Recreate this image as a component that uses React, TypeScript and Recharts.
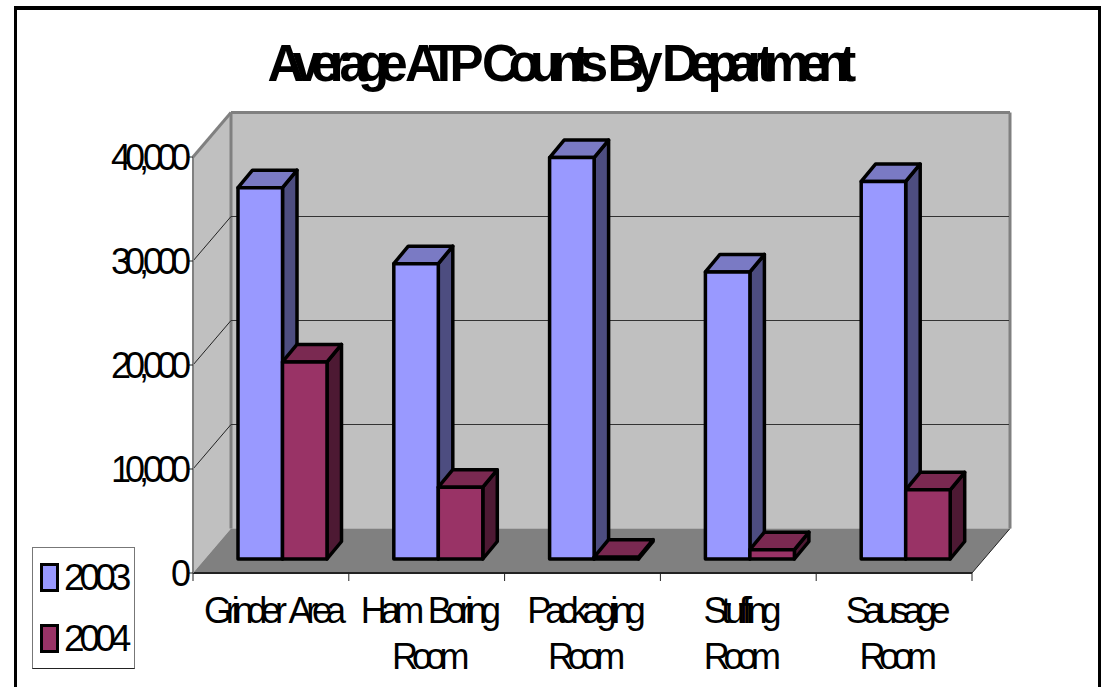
import React from "react";
import { BarChart, Bar, XAxis, YAxis, CartesianGrid, Legend } from "recharts";

const categoryLines = [["Grinder Area"], ["Ham Boring", "Room"], ["Packaging", "Room"], ["Stuffing", "Room"], ["Sausage", "Room"]];
const values2003 = [35700, 28400, 38600, 27600, 36300];
const values2004 = [18950, 6900, 180, 900, 6650];
const yTicks = [0, 10000, 20000, 30000, 40000];
const seriesNames = ["2003", "2004"];

const data = categoryLines.map((lines, i) => ({
  name: lines.join(" "),
  s2003: values2003[i],
  s2004: values2004[i],
}));

const W = 1102, H = 687;
const PLOT = { x: 193, y: 157, w: 779, h: 416 };
const WALL_DX = 38, WALL_DY = 44.5;
const BAR_SHIFT_X = 12, BAR_SHIFT_Y = 14;
const BAR_DX = 14.5, BAR_DY = 17.5;
const FONT = "'Liberation Sans', Arial, sans-serif";
const BAND = PLOT.w / categoryLines.length;

const Walls = () => {
  const { x, y, w, h } = PLOT;
  const b = y + h, r = x + w;
  const bx = x + WALL_DX, ty = y - WALL_DY, by = b - WALL_DY, rx = r + WALL_DX;
  return (
    <svg width={W} height={H} style={{ position: "absolute", left: 0, top: 0 }}>
      <polygon points={`${x},${y} ${bx},${ty} ${bx},${by} ${x},${b}`} fill="#c0c0c0" />
      <rect x={bx} y={ty} width={w} height={h} fill="#c0c0c0" />
      <polygon points={`${x},${b} ${bx},${by} ${rx},${by} ${r},${b}`} fill="#808080" />
      <line x1={r} y1={b} x2={rx} y2={by} stroke="#222" strokeWidth={1} />
      <line x1={x} y1={y} x2={bx} y2={ty} stroke="#808080" strokeWidth={3} />
      <line x1={bx} y1={ty} x2={rx} y2={ty} stroke="#808080" strokeWidth={3} />
      <line x1={bx} y1={ty} x2={bx} y2={by} stroke="#808080" strokeWidth={3} />
      <line x1={rx} y1={ty} x2={rx} y2={by} stroke="#808080" strokeWidth={3} />
    </svg>
  );
};

const gridLine = (props: any) => {
  const { x1, x2, y1, index } = props;
  if (y1 <= PLOT.y + 1 || y1 >= PLOT.y + PLOT.h - 1) return <g key={index} />;
  return (
    <g key={index}>
      <line x1={x1} y1={y1} x2={x1 + WALL_DX} y2={y1 - WALL_DY} stroke="#222" strokeWidth={1} />
      <line x1={x1 + WALL_DX} y1={y1 - WALL_DY} x2={x2 + WALL_DX - 1} y2={y1 - WALL_DY} stroke="#333" strokeWidth={1} />
    </g>
  );
};

const Bar3D = (faceFill: string, topFill: string, sideFill: string) => (props: any) => {
  const { x, y, width, height } = props;
  const fx = x + BAR_SHIFT_X, fy = y - BAR_SHIFT_Y;
  const r = fx + width, b = fy + height;
  const common = { stroke: "#000", strokeWidth: 3.5, strokeLinejoin: "round" as const };
  return (
    <g>
      <polygon points={`${r},${fy} ${r + BAR_DX},${fy - BAR_DY} ${r + BAR_DX},${b - BAR_DY} ${r},${b}`} fill={sideFill} {...common} />
      <polygon points={`${fx},${fy} ${fx + BAR_DX},${fy - BAR_DY} ${r + BAR_DX},${fy - BAR_DY} ${r},${fy}`} fill={topFill} {...common} />
      <rect x={fx} y={fy} width={width} height={height} fill={faceFill} {...common} />
    </g>
  );
};

const YTick = (props: any) => {
  const { y, payload } = props;
  return (
    <text x={PLOT.x - 8} y={y + 13} textAnchor="end" fontFamily={FONT} fontSize={36} letterSpacing={-6} fill="#000">
      {payload.value === 0 ? "0" : payload.value.toLocaleString("en-US")}
    </text>
  );
};

const XTick = (props: any) => {
  const { x, payload, index } = props;
  const lines = categoryLines[index] ?? [payload.value];
  const axisY = PLOT.y + PLOT.h;
  return (
    <g>
      <line x1={x - BAND / 2} y1={axisY} x2={x - BAND / 2} y2={axisY + 8} stroke="#222" />
      {index === categoryLines.length - 1 && <line x1={x + BAND / 2} y1={axisY} x2={x + BAND / 2} y2={axisY + 8} stroke="#222" />}
      {lines.map((line, i) => (
        <text key={i} x={x + 1} y={axisY + 50 + i * 46} textAnchor="middle" fontFamily={FONT} fontSize={36} letterSpacing={-6.2} wordSpacing={6} fill="#000" style={{ fontVariantLigatures: "none" }}>
          {line}
        </text>
      ))}
    </g>
  );
};

const LegendBox = (props: any) => {
  const items = props.payload ?? [];
  return (
    <div style={{ width: 103, height: 122, boxSizing: "border-box", border: "1px solid #777", borderBottomColor: "#222", background: "#fff", position: "relative" }}>
      {items.map((it: any, i: number) => (
        <div key={i} style={{ position: "absolute", left: 0, top: 15 + i * 61, height: 30, width: 100 }}>
          <span style={{ position: "absolute", left: 7, top: 0, width: 19, height: 29, boxSizing: "border-box", border: "3px solid #000", background: it.color }} />
          <span style={{ position: "absolute", left: 31, top: -5, fontFamily: FONT, fontSize: 37, lineHeight: "40px", letterSpacing: -5, color: "#000" }}>
            {it.value}
          </span>
        </div>
      ))}
    </div>
  );
};

export default function App() {
  return (
    <div style={{ position: "absolute", left: 0, top: 0, width: W, height: H, overflow: "hidden", background: "#fff" }}>
      <div style={{ position: "absolute", left: 14, top: 6, width: 1087, height: 720, boxSizing: "border-box", borderStyle: "solid", borderColor: "#000", borderWidth: "4px 3px 0 3px" }} />
      <div style={{ position: "absolute", left: 0, width: 1114, top: 34, textAlign: "center", fontFamily: FONT, fontWeight: 700, fontSize: 51, lineHeight: "60px", letterSpacing: -9.9, wordSpacing: 5, color: "#000", whiteSpace: "nowrap" }}>
        Average ATP Counts By Department
      </div>
      <Walls />
      <div style={{ position: "absolute", left: 0, top: 0 }}>
        <BarChart
          width={W}
          height={H}
          data={data}
          margin={{ left: PLOT.x - 60, top: PLOT.y, right: W - PLOT.x - PLOT.w, bottom: 0 }}
          barCategoryGap={33.4}
          barGap={0}
          barSize={44.5}
        >
          <CartesianGrid vertical={false} horizontal={gridLine} />
          <XAxis dataKey="name" interval={0} height={H - PLOT.y - PLOT.h} axisLine={{ stroke: "#222", strokeWidth: 2 }} tickLine={false} tick={XTick} />
          <YAxis width={60} domain={[0, 40000]} ticks={yTicks} axisLine={{ stroke: "#808080", strokeWidth: 2 }} tickLine={{ stroke: "#222" }} tickSize={6} tick={YTick} />
          <Bar dataKey="s2003" name={seriesNames[0]} fill="#9999ff" isAnimationActive={false} shape={Bar3D("#9999ff", "#7a7ac4", "#4d4d80")} />
          <Bar dataKey="s2004" name={seriesNames[1]} fill="#993366" isAnimationActive={false} shape={Bar3D("#993366", "#7a2951", "#4d1933")} />
          <Legend layout="vertical" align="center" verticalAlign="middle" content={LegendBox} wrapperStyle={{ left: 32, top: 547, width: 103, height: 122, bottom: "auto" }} />
        </BarChart>
      </div>
    </div>
  );
}
